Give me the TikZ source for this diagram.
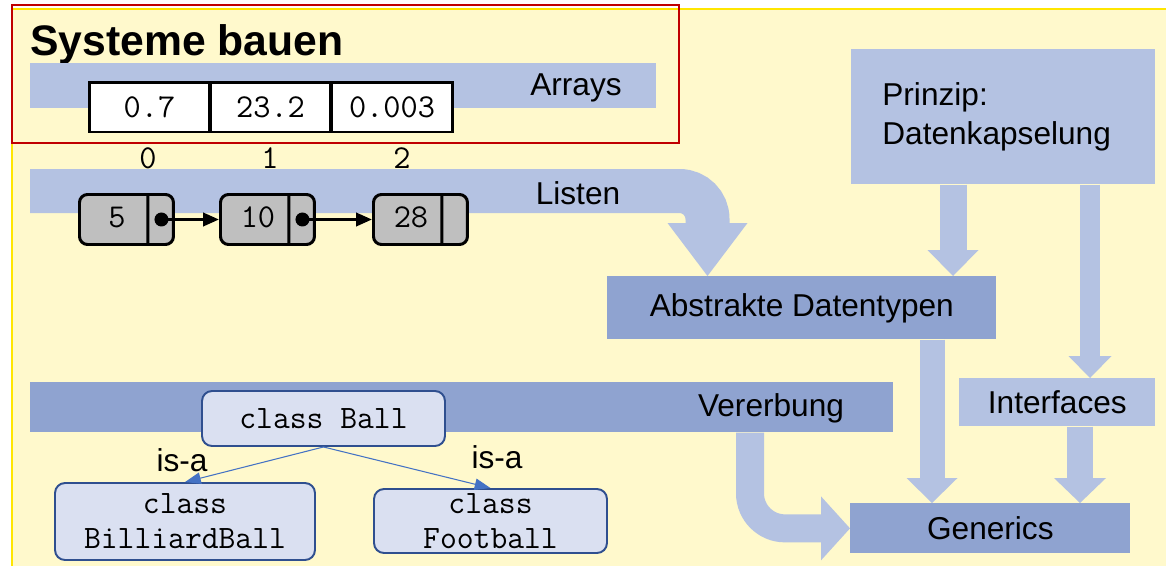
\documentclass[tikz,border=0pt]{standalone}
\usepackage{fontspec}
\setmainfont{Liberation Sans}
\usetikzlibrary{arrows.meta, positioning, calc, shapes.multipart}

\definecolor{bgyellow}{HTML}{FFF9CC}
\definecolor{frameyellow}{HTML}{FFE600}
\definecolor{framered}{HTML}{C00000}
\definecolor{lightblue}{HTML}{B4C2E2}
\definecolor{darkblue}{HTML}{8FA3D0}
\definecolor{classfill}{HTML}{DAE0F1}
\definecolor{classline}{HTML}{2F4F8F}
\definecolor{isablue}{HTML}{4472C4}
\definecolor{listgray}{HTML}{BFBFBF}

% value part and pointer part of a list element
\newcommand\listval[1]{\makebox[1.34cm]{\rule[-0.33cm]{0pt}{1.0cm}\hspace{0.16cm}#1}\nodepart{two}\makebox[0.48cm]{}}

\begin{document}
\begin{tikzpicture}[
  x=0.02cm, y=-0.02cm,
  lbl/.style = {inner sep=0pt, font=\fontsize{18}{22}\selectfont},
  lightbox/.style = {fill=lightblue, inner sep=0pt, font=\fontsize{18}{22}\selectfont},
  darkbox/.style = {fill=darkblue, inner sep=0pt, font=\fontsize{18}{22}\selectfont},
  cell/.style = {draw, line width=1.7pt, fill=white, minimum width=2.42cm, minimum height=1cm, inner sep=0pt, font=\ttfamily\fontsize{19}{20}\selectfont},
  idx/.style = {inner sep=0pt, font=\ttfamily\fontsize{19}{20}\selectfont},
  listbox/.style = {draw, line width=1.7pt, fill=listgray, rounded corners=0.16cm, rectangle split, rectangle split horizontal, rectangle split parts=2, inner sep=0pt, font=\ttfamily\fontsize{19}{20}\selectfont},
  ptr/.style = {line width=1.7pt, -{Triangle[length=9pt, width=7.5pt]}},
  classbox/.style = {draw=classline, line width=1.1pt, fill=classfill, rounded corners=0.2cm, inner sep=0pt, align=center, font=\ttfamily\fontsize{18.6}{20}\selectfont},
  isa/.style = {isablue, line width=0.6pt, -{Triangle[length=9pt, width=6.5pt]}},
  fat/.style n args = {3}{lightblue, line width=#1, -{Triangle[length=#2, width=#3, line width=0pt]}}
]

% Background
\useasboundingbox (0,0) rectangle (1166,566);
\fill[bgyellow] (12,9) rectangle (1166,566);
\draw[frameyellow, line width=1.6pt] (12,566) -- (12,9) -- (1166,9);

% Title
\node[anchor=base west, inner sep=0pt, font=\bfseries\fontsize{24.3}{28}\selectfont] (title) at (30,55) {Systeme bauen};

% Arrays
\node[lightbox, anchor=north west, minimum width=12.52cm, minimum height=0.9cm] (arrays) at (30,63) {};
\node[lbl] (arrayslbl) at (576,88) {Arrays};
\node[cell] (c0) at (149.5,107) {0.7};
\node[cell] (c1) at (270.5,107) {23.2};
\node[cell] (c2) at (392,107) {0.003};
\node[idx] (i0) at (148,158) {0};
\node[idx] (i1) at (270,158) {1};
\node[idx] (i2) at (402,158) {2};

% Boxes on the right
\node[lightbox, anchor=north west, minimum width=6.08cm, minimum height=2.7cm, text width=4.84cm, inner xsep=0.62cm, align=left] (prinzip) at (851,49) {Prinzip:\\Datenkapselung};
\node[darkbox, anchor=north west, minimum width=7.78cm, minimum height=1.26cm] (adt) at (607,276) {Abstrakte Datentypen};
\node[lightbox, anchor=north west, minimum width=3.92cm, minimum height=0.96cm] (interfaces) at (959,378) {Interfaces};
\node[darkbox, anchor=north west, minimum width=5.6cm, minimum height=1cm] (generics) at (850,503) {Generics};

% Listen (bent band into ADT)
\coordinate (listenstart) at (30,191);
\coordinate (colL) at (707.5,0);
\draw[fat={0.88cm}{1.06cm}{1.6cm}, rounded corners=0.56cm] (listenstart) -- (colL |- listenstart) -- (colL |- adt.north);
\node[lbl] (listenlbl) at (578,193) {Listen};

% Lists
\node[listbox, anchor=north west] (l1) at (78,193) {\listval{5}};
\node[listbox, anchor=north west] (l2) at (219,193) {\listval{10}};
\node[listbox, anchor=north west] (l3) at (372,193) {\listval{28}};
\coordinate (p1) at ($(l1.one split north)!0.5!(l1.south east)$);
\coordinate (p2) at ($(l2.one split north)!0.5!(l2.south east)$);
\fill (p1) circle[radius=0.14cm];
\fill (p2) circle[radius=0.14cm];
\draw[ptr] (p1) -- (l2.west);
\draw[ptr] (p2) -- (l3.west);

% Straight arrows
\coordinate (colA) at (953,0);
\coordinate (colI) at (1090,0);
\coordinate (colG) at (932,0);
\coordinate (colH) at (1080,0);
\draw[fat={0.54cm}{0.52cm}{1.02cm}] (colA |- prinzip.south) -- (colA |- adt.north);
\draw[fat={0.4cm}{0.44cm}{0.86cm}] (colI |- prinzip.south) -- (colI |- interfaces.north);
\draw[fat={0.5cm}{0.5cm}{1.02cm}] (colG |- adt.south) -- (colG |- generics.north);
\draw[fat={0.51cm}{0.5cm}{1.04cm}] (colH |- interfaces.south) -- (colH |- generics.north);

% Vererbung
\node[darkbox, anchor=north west, minimum width=17.26cm, minimum height=1cm] (vererbung) at (30,382) {};
\node[lbl] (vererbunglbl) at (771,408) {Vererbung};
\coordinate (colV) at (750,0);
\draw[fat={0.56cm}{0.58cm}{1.28cm}, rounded corners=0.7cm] (colV |- vererbung.south) -- (colV |- generics.west) -- (generics.west);

% Classes
\node[classbox, minimum width=4.86cm, minimum height=1.1cm] (ball) at (323.5,418.5) {class Ball};
\node[classbox, minimum width=5.2cm, minimum height=1.54cm] (billiard) at (185,521.5) {class\\BilliardBall};
\node[classbox, minimum width=4.66cm, minimum height=1.28cm] (football) at (490.5,521) {class\\Football};
\draw[isa] (ball.south) -- (billiard.north);
\draw[isa] (ball.south) -- (football.north);
\node[lbl] (isaleft) at (182,460) {is-a};
\node[lbl] (isaright) at (497,457) {is-a};

% Frame round the title
\draw[framered, line width=1.2pt] (12,5) rectangle (679,143);

\end{tikzpicture}
\end{document}
